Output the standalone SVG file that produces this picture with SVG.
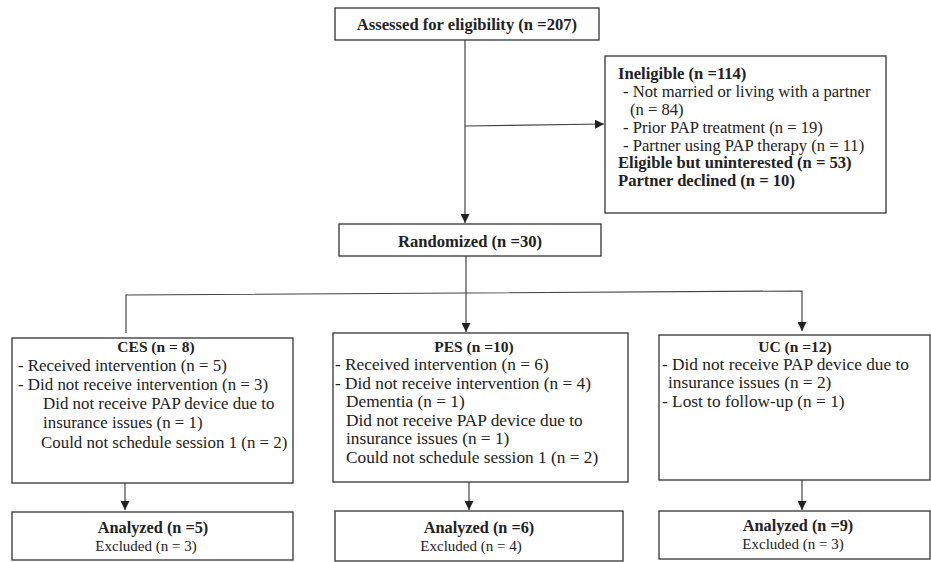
<svg xmlns="http://www.w3.org/2000/svg" width="931" height="562" viewBox="0 0 931 562">
<defs>
<marker id="ah" markerWidth="10" markerHeight="9" refX="9" refY="4.5" orient="auto" markerUnits="userSpaceOnUse">
<path d="M0,0 L9,4.5 L0,9 z" fill="#222"/>
</marker>
<style>
.box{fill:#fff;stroke:#333;stroke-width:1.3}
.ln{fill:none;stroke:#444;stroke-width:1.2}
text{font-family:"Liberation Serif","Times New Roman",serif;font-size:16.6px;fill:#222}
.b{font-weight:bold}
.c{text-anchor:middle}
.g{font-size:17.3px}
.h{font-size:16.9px}
.t{font-size:15.5px}
.x{font-size:15px}
.a{font-size:16.3px}
</style>
</defs>
<rect width="931" height="562" fill="#fff"/>
<g id="connectors">
<path class="ln" d="M465,40 V223" marker-end="url(#ah)"/>
<path class="ln" d="M465,126 L604,124" marker-end="url(#ah)"/>
<path class="ln" d="M466,256 V332" marker-end="url(#ah)"/>
<path class="ln" d="M126,333 V295 L802,291 V331" marker-end="url(#ah)"/>
<path class="ln" d="M125,483 V510" marker-end="url(#ah)"/>
<path class="ln" d="M469,482 V510" marker-end="url(#ah)"/>
<path class="ln" d="M802,480 V510" marker-end="url(#ah)"/>
</g>
<g id="assessed">
<rect class="box" x="335" y="8" width="264" height="32"/>
<text class="b c" x="467" y="30">Assessed for eligibility (n =207)</text>
</g>
<g id="ineligible">
<rect class="box" x="605" y="56" width="281" height="157"/>
<text class="b" x="618" y="79">Ineligible (n =114)</text>
<text x="623" y="97">- Not married or living with a partner</text>
<text x="630" y="115">(n = 84)</text>
<text x="623" y="132.5">- Prior PAP treatment (n = 19)</text>
<text x="623" y="150.5">- Partner using PAP therapy (n = 11)</text>
<text class="b" x="618" y="168">Eligible but uninterested (n = 53)</text>
<text class="b" x="618" y="186">Partner declined (n = 10)</text>
</g>
<g id="randomized">
<rect class="box" x="339" y="224" width="262" height="32"/>
<text class="b c" x="470" y="247">Randomized (n =30)</text>
</g>
<g id="ces">
<rect class="box" x="12" y="338" width="281" height="145"/>
<text class="b c t" x="156" y="352">CES (n = 8)</text>
<text class="h" x="18" y="371">- Received intervention (n = 5)</text>
<text class="h" x="18" y="390">- Did not receive intervention (n = 3)</text>
<text class="h" x="43" y="409">Did not receive PAP device due to</text>
<text class="h" x="43" y="428">insurance issues  (n = 1)</text>
<text class="h" x="41" y="448">Could not schedule session 1 (n = 2)</text>
</g>
<g id="pes">
<rect class="box" x="333" y="333" width="295" height="149"/>
<text class="b c t" x="474" y="352">PES (n =10)</text>
<text class="g" x="335" y="370">- Received intervention (n = 6)</text>
<text class="g" x="335" y="389">- Did not receive intervention (n = 4)</text>
<text class="g" x="346" y="407">Dementia (n = 1)</text>
<text class="g" x="346" y="426">Did not receive PAP device due to</text>
<text class="g" x="346" y="444">insurance issues (n = 1)</text>
<text class="g" x="346" y="463">Could not schedule session 1 (n = 2)</text>
</g>
<g id="uc">
<rect class="box" x="659" y="335" width="271" height="145"/>
<text class="b c t" x="795" y="352">UC (n =12)</text>
<text class="g" x="662" y="370">- Did not receive PAP device due to</text>
<text class="g" x="668" y="388">insurance issues (n = 2)</text>
<text class="g" x="662" y="407">- Lost to follow-up (n = 1)</text>
</g>
<g id="ces-analyzed">
<rect class="box" x="12" y="512" width="281" height="48"/>
<text class="b c a" x="153" y="533">Analyzed (n =5)</text>
<text class="c x" x="146" y="551">Excluded (n = 3)</text>
</g>
<g id="pes-analyzed">
<rect class="box" x="335" y="511" width="288" height="50"/>
<text class="b c a" x="479" y="533">Analyzed (n =6)</text>
<text class="c x" x="471" y="551">Excluded (n = 4)</text>
</g>
<g id="uc-analyzed">
<rect class="box" x="659" y="511" width="271" height="48"/>
<text class="b c a" x="798" y="531">Analyzed (n =9)</text>
<text class="c x" x="793" y="549">Excluded (n = 3)</text>
</g>
</svg>
